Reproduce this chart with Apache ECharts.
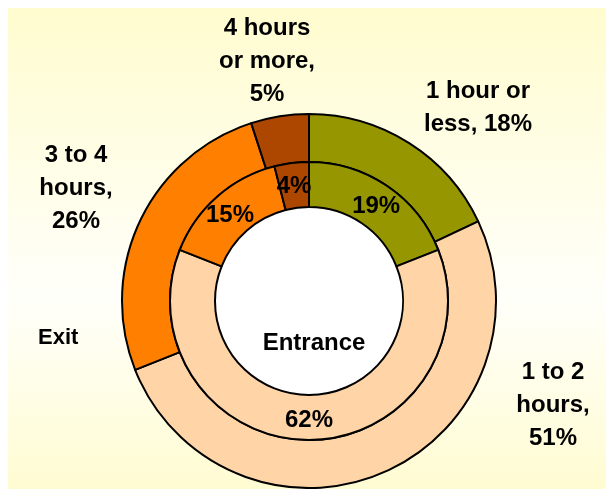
<!DOCTYPE html>
<html>
<head>
<meta charset="utf-8">
<script src="https://cdn.jsdelivr.net/npm/echarts@6/dist/echarts.min.js"></script>
<style>
  html, body { margin: 0; padding: 0; background: #ffffff; }
  #chart { width: 606px; height: 489px; }
</style>
</head>
<body>
<div id="chart"></div>
<script>
// ---- Data ----
const categories = ['1 hour or less', '1 to 2 hours', '3 to 4 hours', '4 hours or more'];
const outerLabelText = ['1 hour or\nless, ', '1 to 2\nhours,\n', '3 to 4\nhours,\n', '4 hours\nor more,\n'];
const exitValues = [18, 51, 26, 5];      // outer ring
const entranceValues = [19, 62, 15, 4];  // inner ring
const seriesNames = ['Exit', 'Entrance'];

// ---- Styles / layout (not data) ----
const colors = ['#969600', '#FFD5A8', '#FF7F00', '#AD4700'];
const outerLabelPos = [[478, 108], [553, 405], [76, 188], [267, 61]];
const center = [309, 301];

const chart = echarts.init(document.getElementById('chart'));
const font = { fontFamily: 'Liberation Sans, Arial, sans-serif', fontWeight: 'bold', color: '#000' };

const option = {
  backgroundColor: '#ffffff',
  animation: false,
  color: colors,
  graphic: [
    {
      type: 'rect', z: -10, silent: true,
      shape: { x: 8, y: 8, width: 598, height: 481 },
      style: {
        fill: new echarts.graphic.LinearGradient(0, 0, 0, 1, [
          { offset: 0, color: '#FFFCCF' },
          { offset: 0.6, color: '#FFFFFA' },
          { offset: 1, color: '#FFFCD2' }
        ])
      }
    },
    {
      type: 'circle', z: -5, silent: true,
      shape: { cx: center[0], cy: center[1], r: 94 },
      style: { fill: '#ffffff' }
    }
  ],
  title: [
    { text: seriesNames[0], left: 33, top: 322, textStyle: Object.assign({ fontSize: 22 }, font) },
    { text: seriesNames[1], left: center[0], top: 326, textAlign: 'center', textStyle: Object.assign({ fontSize: 24 }, font) }
  ],
  series: [
    {
      name: seriesNames[0],
      type: 'pie',
      center: center,
      radius: [139, 187],
      startAngle: 90,
      clockwise: true,
      silent: true,
      itemStyle: { borderColor: '#000', borderWidth: 2 },
      label: Object.assign({
        show: true,
        position: 'outside',
        fontSize: 24,
        lineHeight: 33,
        align: 'center',
        formatter: p => outerLabelText[p.dataIndex] + p.value + '%'
      }, font),
      labelLine: { show: false },
      labelLayout: p => ({
        x: outerLabelPos[p.dataIndex][0],
        y: outerLabelPos[p.dataIndex][1],
        align: 'center',
        verticalAlign: 'middle'
      }),
      data: categories.map((c, i) => ({ name: c, value: exitValues[i] }))
    },
    {
      name: seriesNames[1],
      type: 'pie',
      center: center,
      radius: [94, 139],
      startAngle: 90,
      clockwise: true,
      silent: true,
      itemStyle: { borderColor: '#000', borderWidth: 2 },
      label: Object.assign({
        show: true,
        position: 'inside',
        fontSize: 24,
        formatter: p => p.value + '%'
      }, font),
      labelLine: { show: false },
      labelLayout: p => (p.dataIndex === 1 ? {} : { dy: 4 }),
      data: categories.map((c, i) => ({ name: c, value: entranceValues[i] }))
    }
  ]
};
chart.setOption(option);
</script>
</body>
</html>
